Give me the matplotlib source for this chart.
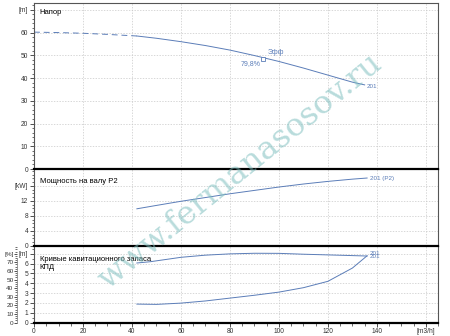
import matplotlib
matplotlib.use("Agg")
import matplotlib.pyplot as plt
from matplotlib.ticker import MultipleLocator

plt.rcParams['font.family'] = ['Liberation Sans', 'DejaVu Sans']
plt.rcParams['font.size'] = 5

# --- data ---
q_head_dash = [0, 10, 20, 30, 42]
h_head_dash = [60.2, 60.0, 59.7, 59.2, 58.5]
q_head = [42, 50, 60, 70, 80, 90, 100, 110, 120, 130, 135]
h_head = [58.5, 57.5, 56.0, 54.3, 52.3, 49.9, 47.3, 44.4, 41.3, 38.2, 37.0]
q_bep, h_bep = 93.4, 48.6
bep_text = "79,8%"

q_p2 = [42, 50, 60, 70, 80, 90, 100, 110, 120, 130, 136]
p2 = [9.9, 10.8, 11.9, 12.9, 13.9, 14.8, 15.7, 16.5, 17.2, 17.8, 18.1]

q_eff = [42, 47.5, 60, 70, 80, 90, 100, 110, 120, 130, 136]
eff = [69.2, 70.7, 75.8, 78.3, 79.8, 80.5, 80.4, 79.4, 78.6, 77.8, 77.3]

q_npsh = [42, 50, 60, 70, 80, 90, 100, 110, 120, 130, 136]
npsh = [1.88, 1.85, 1.98, 2.2, 2.49, 2.78, 3.1, 3.55, 4.2, 5.55, 6.8]

x_ticks = [0, 20, 40, 60, 80, 100, 120, 140, 160]
x_labels = ['0', '20', '40', '60', '80', '100', '120', '140', '[m3/h]']
head_ticks = [0, 10, 20, 30, 40, 50, 60, 70]
head_labels = ['0', '10', '20', '30', '40', '50', '60', '[m]']
p2_ticks = [0, 4, 8, 12, 16]
p2_labels = ['0', '4', '8', '12', '[kW]']
npsh_ticks = [0, 1, 2, 3, 4, 5, 6, 7]
npsh_labels = ['0', '1', '2', '3', '4', '5', '6', '[m]']
eff_ticks = [0, 10, 20, 30, 40, 50, 60, 70, 80]
eff_labels = ['0', '10', '20', '30', '40', '50', '60', '70', '[%]']

blue = '#5b7db8'
tick_col = '#333333'
grid_kw = dict(color='#c8c8c8', linestyle=(0, (2, 2)), linewidth=0.5)

fig = plt.figure(figsize=(4.5, 3.36), dpi=100)
L, W = 0.0756, 0.898
ax1 = fig.add_axes([L, 0.497, W, 0.494])
ax2 = fig.add_axes([L, 0.268, W, 0.229], sharex=ax1)
ax3 = fig.add_axes([L, 0.040, W, 0.228], sharex=ax1)

for ax in (ax1, ax2, ax3):
    ax.set_xlim(0, 165)
    ax.set_xticks(x_ticks)
    ax.xaxis.set_minor_locator(MultipleLocator(5))
    ax.grid(True, which='major', **grid_kw)
    ax.tick_params(which='major', length=3, width=0.6, pad=1.2, labelsize=4.8, colors=tick_col)
    ax.tick_params(which='minor', length=1.8, width=0.5, colors=tick_col)
    for s in ax.spines.values():
        s.set_color('#555555')
        s.set_linewidth(0.8)
ax1.tick_params(axis='x', which='both', bottom=False, labelbottom=False)
ax2.tick_params(axis='x', which='both', bottom=False, labelbottom=False)
ax3.set_xticklabels(x_labels)
for ax in (ax2, ax3):
    ax.spines['top'].set_color('black')
    ax.spines['top'].set_linewidth(1.6)
ax3.spines['bottom'].set_color('black')
ax3.spines['bottom'].set_linewidth(1.6)

# head
ax1.plot(q_head_dash, h_head_dash, color=blue, lw=0.7, ls=(0, (6, 4)))
ax1.plot(q_head, h_head, color=blue, lw=0.7)
ax1.plot([q_bep], [h_bep], marker='s', ms=3, mfc='white', mec=blue, mew=0.6)
ax1.text(q_bep + 2, h_bep + 1.0, 'Эфф', color=blue, fontsize=5, va='bottom')
ax1.text(q_bep - 1, h_bep - 0.5, bep_text, color=blue, fontsize=5, ha='right', va='top')
ax1.text(q_head[-1] + 1, h_head[-1] - 0.5, '201', color=blue, fontsize=4.5, va='center')
ax1.set_ylim(0, 73)
ax1.set_yticks(head_ticks, head_labels)
ax1.yaxis.set_minor_locator(MultipleLocator(2))
ax1.text(0.014, 0.965, 'Напор', transform=ax1.transAxes, fontsize=5.5, va='top')

# power
ax2.plot(q_p2, p2, color=blue, lw=0.7)
ax2.text(q_p2[-1] + 1, p2[-1], '201 (P2)', color=blue, fontsize=4.5, va='center')
ax2.set_ylim(0, 20.5)
ax2.set_yticks(p2_ticks, p2_labels)
ax2.yaxis.set_minor_locator(MultipleLocator(1))
ax2.text(0.014, 0.88, 'Мощность на валу P2', transform=ax2.transAxes, fontsize=5.5, va='top')

# npsh + efficiency
ax3.plot(q_npsh, npsh, color=blue, lw=0.7)
ax3.set_ylim(0, 7.8)
ax3.set_yticks(npsh_ticks, npsh_labels)
ax3.yaxis.set_minor_locator(MultipleLocator(0.5))
ax3.text(0.014, 0.87, 'Кривые кавитационного запаса\nКПД', transform=ax3.transAxes,
         fontsize=5.5, va='top', linespacing=1.15)

ax3b = ax3.twinx()
ax3b.plot(q_eff, eff, color=blue, lw=0.7)
ax3b.set_ylim(0, 89)
ax3b.yaxis.tick_left()
ax3b.spines['left'].set_position(('outward', 12))
ax3b.spines['left'].set_color('#777777')
ax3b.spines['left'].set_linewidth(0.5)
ax3b.spines['left'].set_bounds(0, 75)
for side in ('right', 'top', 'bottom'):
    ax3b.spines[side].set_visible(False)
ax3b.set_yticks(eff_ticks, eff_labels)
ax3b.yaxis.set_minor_locator(MultipleLocator(2.5))
ax3b.tick_params(which='major', length=2, width=0.6, pad=0.8, labelsize=4.6, colors=tick_col)
ax3b.tick_params(which='minor', length=1.5, width=0.5, colors=tick_col)
ax3b.text(q_eff[-1] + 1, eff[-1] + 3.5, '201', color=blue, fontsize=4.5, va='center')
ax3b.text(q_eff[-1] + 1, eff[-1] - 0.5, '201', color=blue, fontsize=4.5, va='center')

# watermark
fig.text(0.535, 0.49, 'www.fermanasosov.ru', fontsize=23, family='DejaVu Serif',
         color='#7fbfbf', alpha=0.55, rotation=39, ha='center', va='center',
         rotation_mode='anchor')

fig.savefig('out.png', dpi=100)
